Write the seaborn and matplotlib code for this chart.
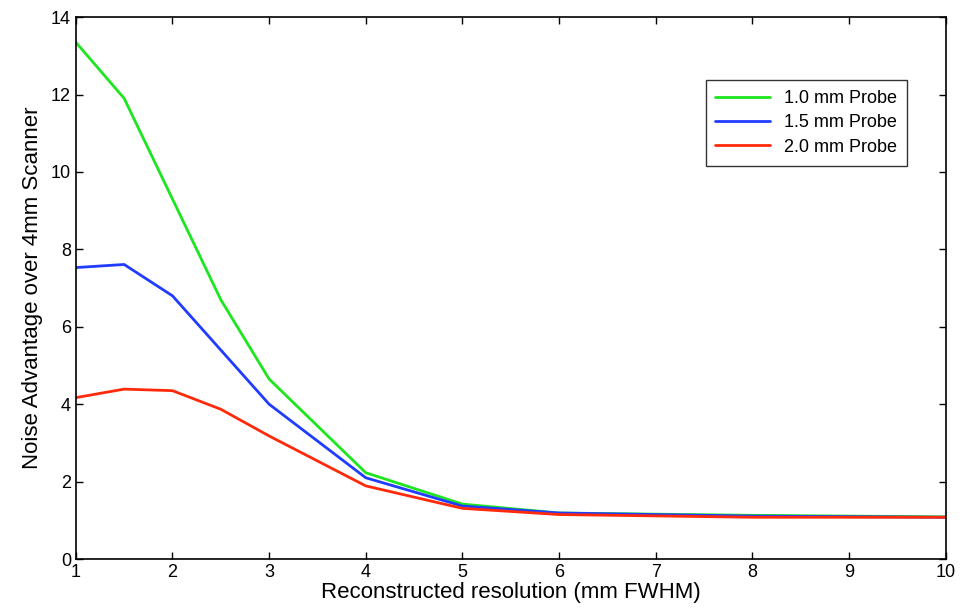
import pandas as pd
import seaborn as sns
from matplotlib import pyplot as plt

resolution = [1, 1.5, 2, 2.5, 3, 4, 5, 6, 8, 10]
probe_10 = [13.35, 11.9, 9.3, 6.7, 4.65, 2.23, 1.42, 1.19, 1.13, 1.09]
probe_15 = [7.53, 7.61, 6.8, 5.4, 4.0, 2.1, 1.37, 1.19, 1.11, 1.08]
probe_20 = [4.17, 4.39, 4.35, 3.87, 3.18, 1.89, 1.31, 1.15, 1.08, 1.08]
labels = ['1.0 mm Probe', '1.5 mm Probe', '2.0 mm Probe']
colors = ['#1ee61e', '#1f3cff', '#ff2a0a']

frames = []
for lab, vals in zip(labels, [probe_10, probe_15, probe_20]):
    frames.append(pd.DataFrame({'res': resolution, 'adv': vals, 'probe': lab}))
df = pd.concat(frames)

sns.set_style('ticks')
plt.rcParams['font.family'] = ['Liberation Sans', 'DejaVu Sans']
plt.rcParams['text.color'] = 'black'
plt.rcParams['axes.labelcolor'] = 'black'

fig = plt.figure(figsize=(9.6, 6.11), dpi=100)
ax = fig.add_axes([0.079, 0.085, 0.906, 0.887])
sns.lineplot(data=df, x='res', y='adv', hue='probe', palette=colors,
             linewidth=2, ax=ax)

ax.set_xlim(1, 10)
ax.set_ylim(0, 14)
ax.set_xticks(range(1, 11))
ax.set_yticks(range(0, 15, 2))
ax.tick_params(direction='in', top=True, right=True, labelsize=13,
               length=5, width=1, colors='black')
for s in ax.spines.values():
    s.set_visible(True)
    s.set_color('black')
    s.set_linewidth(1.2)
ax.set_xlabel('Reconstructed resolution (mm FWHM)', fontsize=16, labelpad=1)
ax.set_ylabel('Noise Advantage over 4mm Scanner', fontsize=16, labelpad=6)

leg = ax.legend(loc='upper right', bbox_to_anchor=(0.966, 0.9), fontsize=13,
                frameon=True, fancybox=False, edgecolor='black',
                handlelength=3.0, borderpad=0.55, labelspacing=0.4)
leg.get_frame().set_linewidth(1)
leg.set_title(None)

plt.savefig('out.png', dpi=100)
